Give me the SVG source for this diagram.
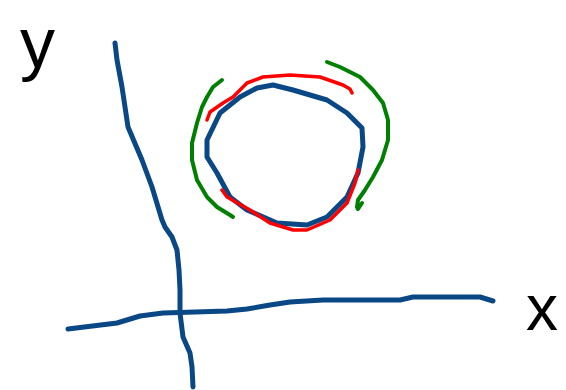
<svg xmlns="http://www.w3.org/2000/svg" width="566" height="390" viewBox="0 0 566 390">
<style>
.s{fill:none;stroke-linecap:round;stroke-linejoin:round}
.b{stroke:#0a4785;stroke-width:5}
.r{stroke:#ff0000;stroke-width:3.5}
.g{stroke:#008000;stroke-width:4}
.lbl{font-family:"Liberation Sans",Arial,sans-serif;fill:#000}
</style>
<rect width="566" height="390" fill="#fff"/>
<g id="axes">
<path class="s b" d="M115,43 L117,60 L122,87 L125,107 L128,127 L142,160 L152,187 L162,220 L165,227 L172,237 L177,250 L179,270 L180,290 L180,313 L183,337 L190,353 L192,367 L193,387"/>
<path class="s b" d="M68,329 L117,323 L140,316 L163,313 L227,311 L247,309 L270,305 L290,302 L323,300 L400,300 L413,297 L480,297 L493,301"/>
</g>
<g id="blue-circle">
<path class="s b" d="M273,85 L293,90 L327,100 L347,113 L362,128 L363,147 L358,173 L347,197 L327,217 L307,225 L277,223 L247,210 L230,197 L217,173 L207,157 L207,140 L220,113 L240,97 L257,88 Z"/>
</g>
<g id="red-arcs">
<path class="s r" d="M352,93 L350,89 L343,85 L320,77 L290,75 L263,77 L247,83 L233,97 L223,103 L210,112 L207,120"/>
<path class="s r" d="M222,190 L227,197 L250,210 L270,223 L293,230 L307,230 L330,220 L347,203 L355,183 L358,170"/>
</g>
<g id="green-arcs">
<path class="s g" d="M222,80 L213,87 L207,97 L202,107 L197,123 L192,143 L192,160 L197,180 L207,197 L217,207 L230,215 L233,217"/>
<path class="s g" d="M327,62 L340,67 L360,77 L373,90 L383,103 L388,120 L388,140 L382,160 L373,177 L365,190 L358,200 L357,207 L358,209 L362,203"/>
</g>
<g id="labels">
<text class="lbl" x="20" y="67" font-size="70">y</text>
<text class="lbl" x="526" y="330" font-size="64">x</text>
</g>
</svg>
